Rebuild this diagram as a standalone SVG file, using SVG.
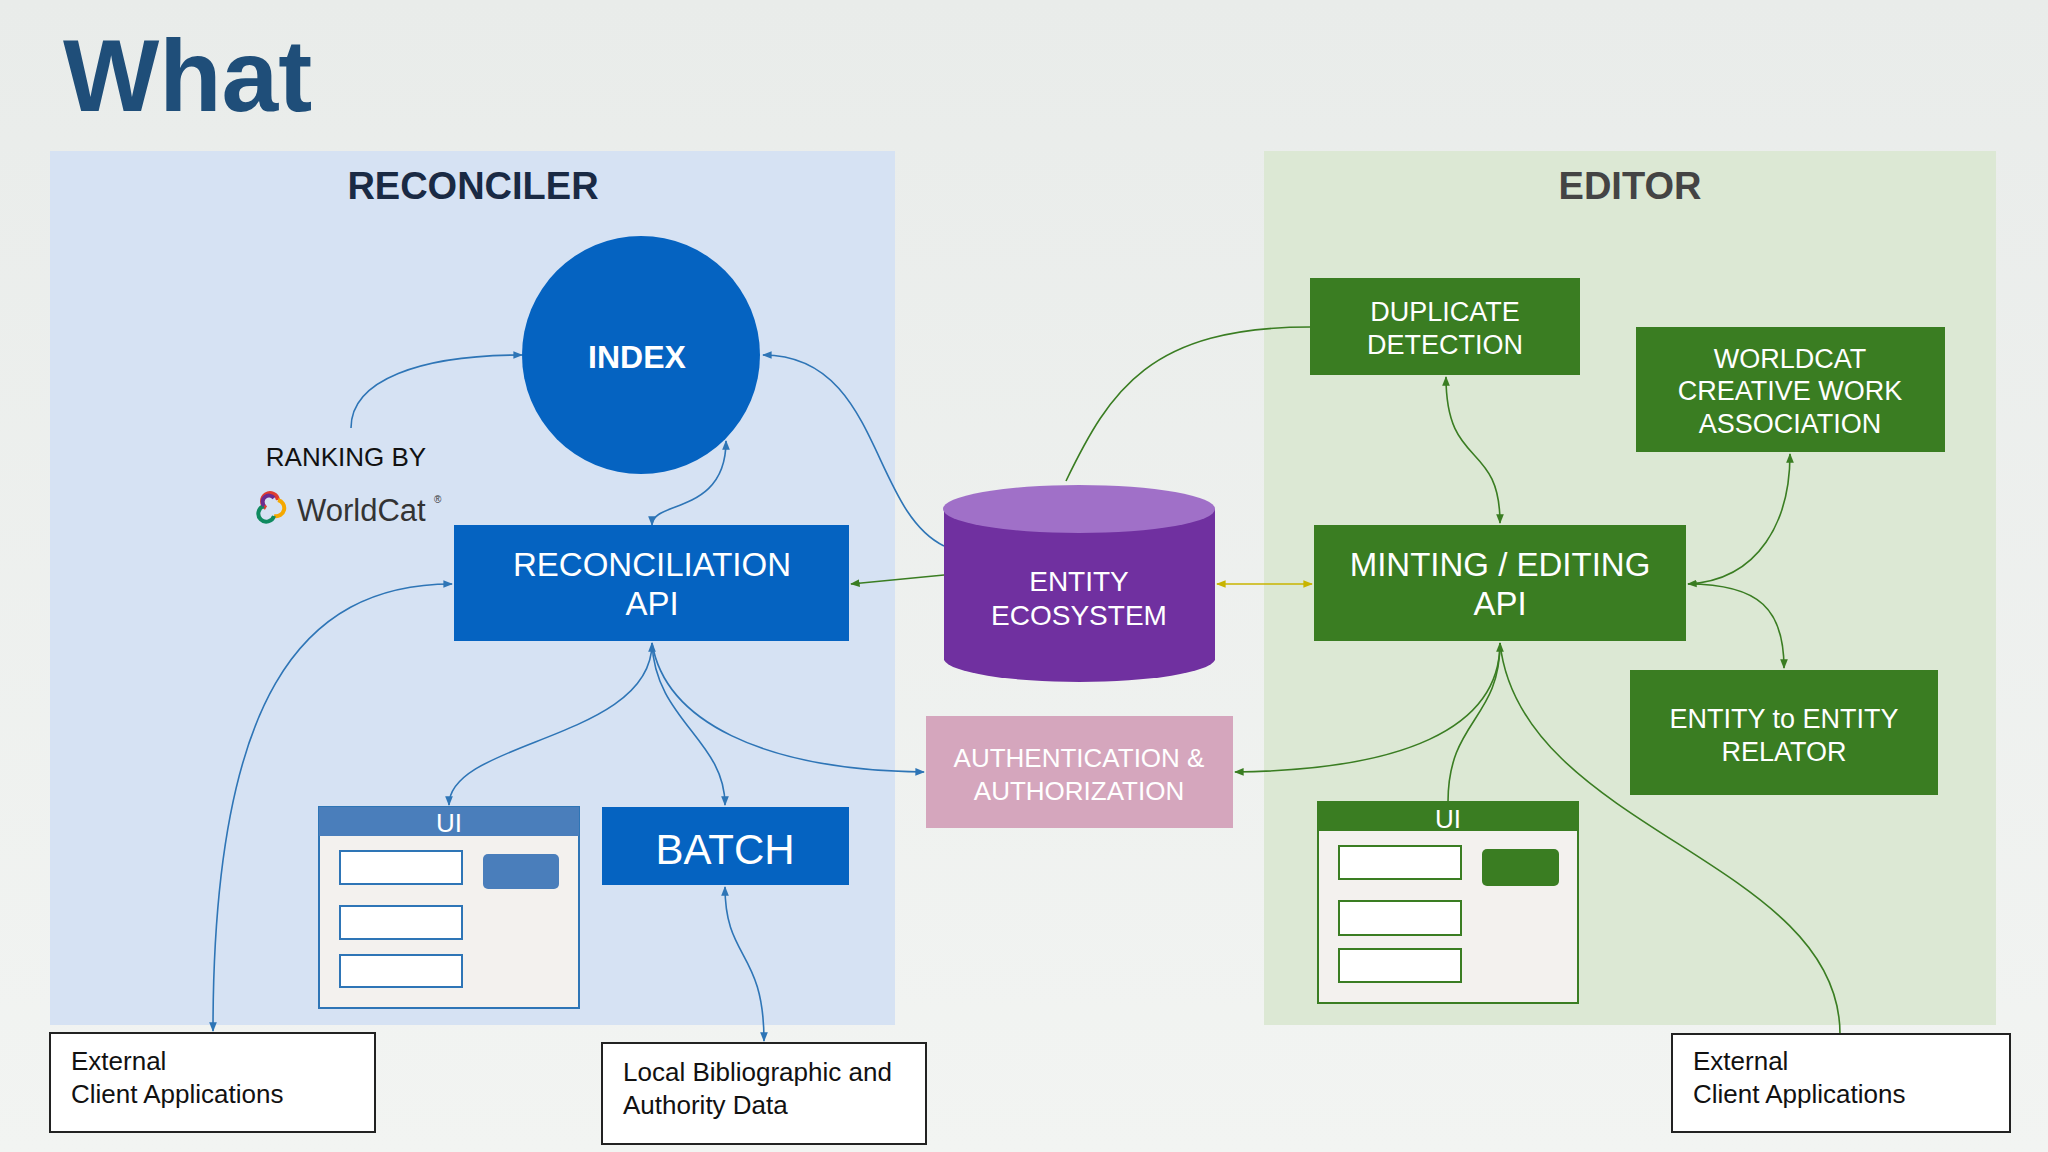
<svg xmlns="http://www.w3.org/2000/svg" width="2048" height="1152" viewBox="0 0 2048 1152">
<defs>
<linearGradient id="bg" x1="0" y1="0" x2="0" y2="1"><stop offset="0" stop-color="#e9ecea"/><stop offset="1" stop-color="#f2f4f2"/></linearGradient>
<marker id="ab" viewBox="0 0 10 10" refX="9" refY="5" markerWidth="6" markerHeight="6" orient="auto-start-reverse"><path d="M0,1 L10,5 L0,9 z" fill="#2e75b6"/></marker>
<marker id="ag" viewBox="0 0 10 10" refX="9" refY="5" markerWidth="6" markerHeight="6" orient="auto-start-reverse"><path d="M0,1 L10,5 L0,9 z" fill="#3a7d22"/></marker>
<marker id="ay" viewBox="0 0 10 10" refX="9" refY="5" markerWidth="6" markerHeight="6" orient="auto-start-reverse"><path d="M0,1 L10,5 L0,9 z" fill="#c8b400"/></marker>
<style>
text{font-family:"Liberation Sans",Arial,sans-serif}
.w{fill:#fff;text-anchor:middle}
.k{fill:#111;font-size:26px}
.b{fill:none;stroke:#2e75b6;stroke-width:1.6}
.g{fill:none;stroke:#3a7d22;stroke-width:1.6}
.blue{fill:#0563c1}
.green{fill:#3a7d22}
.in{fill:#fff;stroke:#2e75b6;stroke-width:2}
.ing{fill:#fff;stroke:#3a7d22;stroke-width:2}
.box{fill:#fff;stroke:#222;stroke-width:2}
</style>
</defs>
<rect width="2048" height="1152" fill="url(#bg)"/>
<text x="63" y="111" font-size="102" font-weight="bold" fill="#1f4e79">What</text>
<rect x="50" y="151" width="845" height="874" fill="#d6e2f3"/>
<text x="473" y="199" font-size="38" font-weight="bold" fill="#1a2a44" text-anchor="middle">RECONCILER</text>
<rect x="1264" y="151" width="732" height="874" fill="#dce8d4"/>
<text x="1630" y="199" font-size="38" font-weight="bold" fill="#444" text-anchor="middle">EDITOR</text>

<g id="connectors">
<path class="b" d="M351,428 C351,380 420,355 522,355" marker-end="url(#ab)"/>
<path class="b" d="M652,525 C652,500 726,515 726,441" marker-start="url(#ab)" marker-end="url(#ab)"/>
<path class="b" d="M944,546 C870,510 880,355 763,355" marker-end="url(#ab)"/>
<path class="g" d="M944,575 L851,584" marker-end="url(#ag)"/>
<path fill="none" stroke="#c8b400" stroke-width="1.6" d="M1217,584 L1312,584" marker-start="url(#ay)" marker-end="url(#ay)"/>
<path class="g" d="M1066,481 C1110,390 1150,327 1310,327"/>
<path class="g" d="M1446,377 C1446,470 1500,440 1500,523" marker-start="url(#ag)" marker-end="url(#ag)"/>
<path class="g" d="M1688,584 C1760,580 1790,520 1790,454" marker-start="url(#ag)" marker-end="url(#ag)"/>
<path class="g" d="M1688,584 C1760,584 1784,610 1784,668" marker-end="url(#ag)"/>
<path class="b" d="M449,805 C449,740 652,740 652,643" marker-start="url(#ab)" marker-end="url(#ab)"/>
<path class="b" d="M725,805 C725,740 655,720 652,643" marker-start="url(#ab)"/>
<path class="b" d="M924,772 C760,770 665,720 652,643" marker-start="url(#ab)"/>
<path class="b" d="M452,584 C300,584 213,700 213,1031" marker-start="url(#ab)" marker-end="url(#ab)"/>
<path class="b" d="M725,887 C725,960 764,950 764,1041" marker-start="url(#ab)" marker-end="url(#ab)"/>
<path class="g" d="M1235,772 C1400,770 1500,730 1500,643" marker-start="url(#ag)" marker-end="url(#ag)"/>
<path class="g" d="M1448,802 C1448,720 1500,720 1500,643"/>
<path class="g" d="M1840,1034 C1840,860 1520,830 1500,643"/>
</g>

<g id="index"><circle cx="641" cy="355" r="119" class="blue"/><text x="637" y="368" class="w" font-size="32" font-weight="bold">INDEX</text></g>
<g id="ranking"><text x="346" y="466" class="k" text-anchor="middle">RANKING BY</text>
<g fill="none" stroke-width="4"><path d="M266,508 a8,8 0 1 1 12,-8" stroke="#e03c31"/><path d="M278,500 a8,8 0 1 1 -4,16" stroke="#f5a800"/><path d="M274,516 a8,8 0 1 1 -10,-10" stroke="#0f8a5f"/><path d="M264,506 a6,6 0 1 1 10,-8" stroke="#6a2c91"/></g>
<text x="297" y="521" font-size="31" fill="#333">WorldCat</text><text x="434" y="503" font-size="10" fill="#333">®</text></g>
<g id="recon"><rect x="454" y="525" width="395" height="116" class="blue"/><text x="652" y="576" class="w" font-size="33">RECONCILIATION</text><text x="652" y="615" class="w" font-size="33">API</text></g>
<g id="eco"><path d="M944,509 L944,660 A136,24 0 0 0 1215,660 L1215,509 Z" fill="#7030a0"/><ellipse cx="1079" cy="509" rx="136" ry="24" fill="#a070c8"/><text x="1079" y="591" class="w" font-size="28">ENTITY</text><text x="1079" y="625" class="w" font-size="28">ECOSYSTEM</text></g>
<g id="dup"><rect x="1310" y="278" width="270" height="97" class="green"/><text x="1445" y="321" class="w" font-size="27">DUPLICATE</text><text x="1445" y="354" class="w" font-size="27">DETECTION</text></g>
<g id="wcw"><rect x="1636" y="327" width="309" height="125" class="green"/><text x="1790" y="368" class="w" font-size="27">WORLDCAT</text><text x="1790" y="400" class="w" font-size="27">CREATIVE WORK</text><text x="1790" y="433" class="w" font-size="27">ASSOCIATION</text></g>
<g id="mint"><rect x="1314" y="525" width="372" height="116" class="green"/><text x="1500" y="576" class="w" font-size="33">MINTING / EDITING</text><text x="1500" y="615" class="w" font-size="33">API</text></g>
<g id="relator"><rect x="1630" y="670" width="308" height="125" class="green"/><text x="1784" y="728" class="w" font-size="27">ENTITY to ENTITY</text><text x="1784" y="761" class="w" font-size="27">RELATOR</text></g>
<g id="auth"><rect x="926" y="716" width="307" height="112" fill="#d5a6bd"/><text x="1079" y="767" class="w" font-size="26">AUTHENTICATION &amp;</text><text x="1079" y="800" class="w" font-size="26">AUTHORIZATION</text></g>
<g id="uiL"><rect x="319" y="807" width="260" height="201" fill="#f3f1ee" stroke="#2e75b6" stroke-width="2"/><rect x="319" y="807" width="260" height="29" fill="#4a7ebb"/><text x="449" y="832" class="w" font-size="26">UI</text>
<rect x="340" y="851" width="122" height="33" class="in"/><rect x="340" y="906" width="122" height="33" class="in"/><rect x="340" y="955" width="122" height="32" class="in"/><rect x="483" y="854" width="76" height="35" rx="5" fill="#4a7ebb"/></g>
<g id="batch"><rect x="602" y="807" width="247" height="78" class="blue"/><text x="725" y="864" class="w" font-size="42">BATCH</text></g>
<g id="uiR"><rect x="1318" y="802" width="260" height="201" fill="#f3f1ee" stroke="#3a7d22" stroke-width="2"/><rect x="1318" y="802" width="260" height="29" class="green"/><text x="1448" y="828" class="w" font-size="26">UI</text>
<rect x="1339" y="846" width="122" height="33" class="ing"/><rect x="1339" y="901" width="122" height="34" class="ing"/><rect x="1339" y="949" width="122" height="33" class="ing"/><rect x="1482" y="849" width="77" height="37" rx="5" class="green"/></g>
<g id="extL"><rect x="50" y="1033" width="325" height="99" class="box"/><text x="71" y="1070" class="k">External</text><text x="71" y="1103" class="k">Client Applications</text></g>
<g id="local"><rect x="602" y="1043" width="324" height="101" class="box"/><text x="623" y="1081" class="k">Local Bibliographic and</text><text x="623" y="1114" class="k">Authority Data</text></g>
<g id="extR"><rect x="1672" y="1034" width="338" height="98" class="box"/><text x="1693" y="1070" class="k">External</text><text x="1693" y="1103" class="k">Client Applications</text></g>
</svg>
